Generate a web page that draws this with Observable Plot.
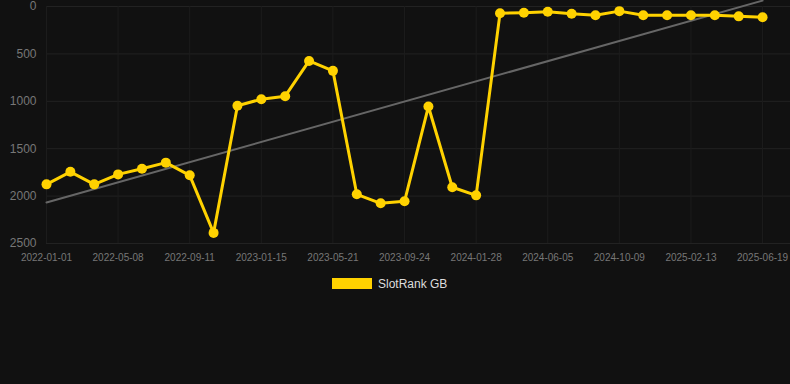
<!DOCTYPE html>
<html>
<head>
<meta charset="utf-8">
<script src="https://cdn.jsdelivr.net/npm/d3@7"></script>
<script src="https://cdn.jsdelivr.net/npm/@observablehq/plot@0.6"></script>
<style>
  html, body { margin: 0; padding: 0; background: #111111; }
  body { width: 790px; height: 384px; overflow: hidden; font-family: "Liberation Sans", Arial, sans-serif; }
  #chart svg { display: block; }
  #legend { position: absolute; left: 0; top: 277px; width: 790px; height: 14px; }
  #legend .sw { position: absolute; left: 332px; top: 1px; width: 40px; height: 11px; background: #FFD200; }
  #legend .lb { position: absolute; left: 378px; top: 0px; font-size: 12px; line-height: 14px; color: #dddddd; }
</style>
</head>
<body>
<div id="chart"></div>
<div id="legend"><div class="sw"></div><div class="lb">SlotRank GB</div></div>
<script>
const dates = [
  "2022-01-01","2022-02-12","2022-03-26","2022-05-08","2022-06-19","2022-07-31",
  "2022-09-11","2022-10-23","2022-12-04","2023-01-15","2023-02-26","2023-04-09",
  "2023-05-21","2023-07-02","2023-08-13","2023-09-24","2023-11-05","2023-12-17",
  "2024-01-28","2024-03-10","2024-04-22","2024-06-05","2024-07-17","2024-08-28",
  "2024-10-09","2024-11-20","2025-01-02","2025-02-13","2025-03-27","2025-05-08",
  "2025-06-19"
];
const ranks = [
  1876, 1744, 1876, 1771, 1711, 1647, 1781, 2388, 1047, 978, 946, 574, 679,
  1981, 2076, 2055, 1055, 1907, 1992, 72, 65, 55, 76, 93, 49, 93, 93, 93, 93,
  104, 113
];
const yTicks = [0, 500, 1000, 1500, 2000, 2500];
const xTickIdx = [0, 3, 6, 9, 12, 15, 18, 21, 24, 27, 30];

const data = dates.map((d, i) => ({i, date: d, rank: ranks[i]}));

const chart = Plot.plot({
  width: 790,
  height: 270,
  marginTop: 6,
  marginBottom: 27,
  marginLeft: 46,
  marginRight: 0,
  style: {background: "#111111", color: "#777777", fontFamily: "Liberation Sans, Arial, sans-serif", fontSize: "10px"},
  x: {type: "linear", domain: [0, 31.17], label: null},
  y: {domain: [0, 2500], reverse: true, label: null},
  marks: [
    Plot.gridY(yTicks, {stroke: "#222222", strokeOpacity: 1}),
    Plot.gridX(xTickIdx, {stroke: "#1c1c1c", strokeOpacity: 1}),
    Plot.axisY(yTicks, {tickSize: 0, tickPadding: 10, fontSize: 12, fill: "#777777", tickFormat: d => String(d)}),
    Plot.axisX(xTickIdx, {tickSize: 0, tickPadding: 10, fontSize: 10, fill: "#777777", tickFormat: i => dates[i]}),
    Plot.linearRegressionY(data, {x: "i", y: "rank", stroke: "#666666", strokeWidth: 2, ci: 0}),
    Plot.line(data, {x: "i", y: "rank", stroke: "#FFD200", strokeWidth: 3, curve: "linear"}),
    Plot.dot(data, {x: "i", y: "rank", r: 5, fill: "#FFD200", stroke: "none"})
  ]
});
document.getElementById("chart").appendChild(chart);
</script>
</body>
</html>
